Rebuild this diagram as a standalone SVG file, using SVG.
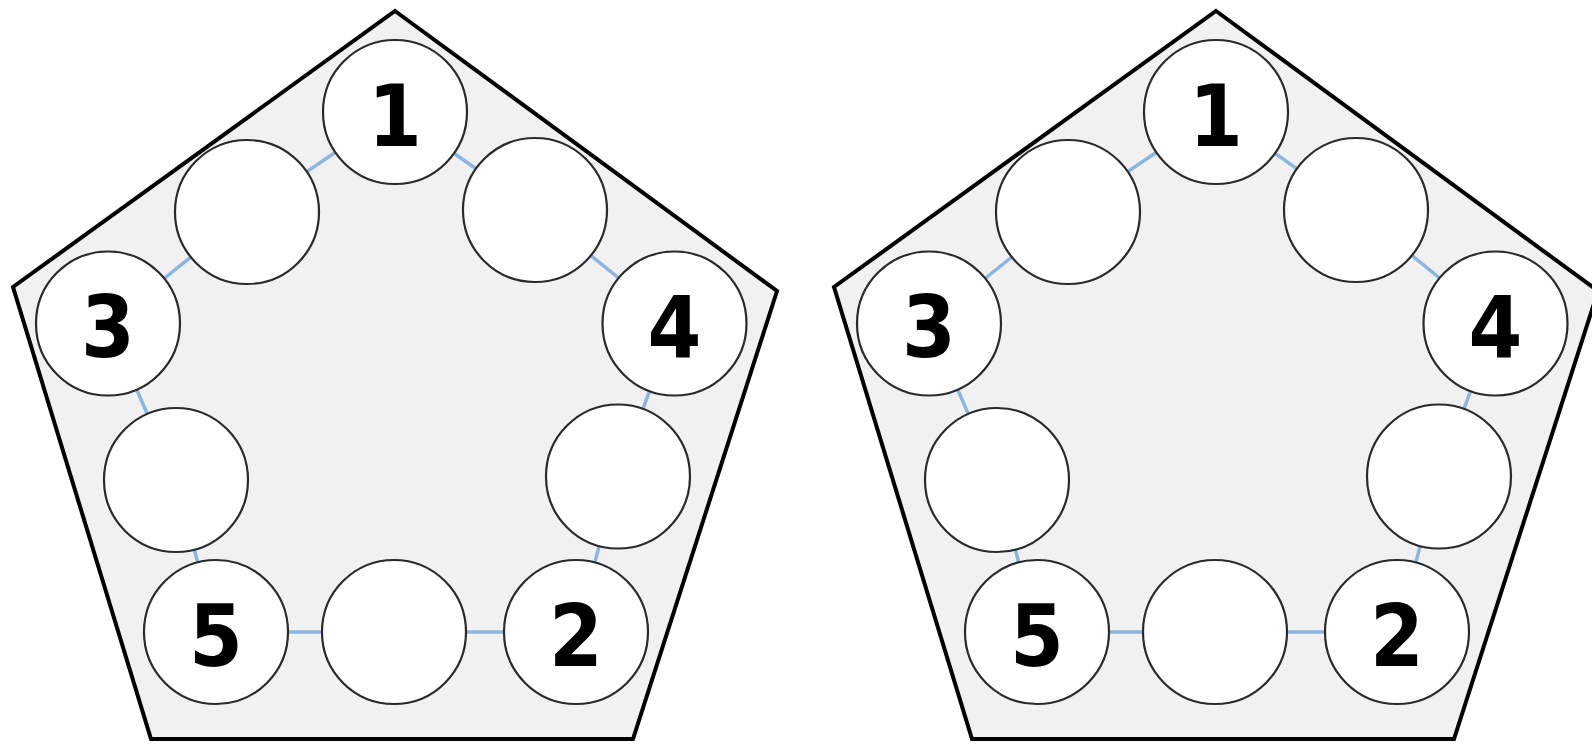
<svg xmlns="http://www.w3.org/2000/svg" width="1592" height="745" viewBox="0 0 1592 745">
<style>
.pent{fill:#f1f1f1;stroke:#000;stroke-width:4;stroke-linejoin:miter}
.node circle{fill:#fff;stroke:#2a2a2a;stroke-width:2.2}
.node text{font-family:"DejaVu Sans Condensed","DejaVu Sans",sans-serif;font-weight:bold;font-size:86px;fill:#000;text-anchor:middle}
.conn line{stroke:#8db6df;stroke-width:3.5}
</style>
<rect width="1592" height="745" fill="#fff"/>
<g id="left">
<polygon id="pentagon-left" class="pent" points="395,11 777,291 633,739 151,739 13,287"/>
<g id="connectors-left" class="conn">
<line x1="395" y1="112" x2="247" y2="212"/>
<line x1="247" y1="212" x2="108" y2="323.5"/>
<line x1="108" y1="323.5" x2="176" y2="480"/>
<line x1="176" y1="480" x2="216" y2="632"/>
<line x1="216" y1="632" x2="394" y2="632"/>
<line x1="394" y1="632" x2="576" y2="632"/>
<line x1="576" y1="632" x2="618" y2="476.5"/>
<line x1="618" y1="476.5" x2="674.5" y2="323.5"/>
<line x1="674.5" y1="323.5" x2="535" y2="210"/>
<line x1="535" y1="210" x2="395" y2="112"/>
</g>
<g id="L-n1" class="node"><circle cx="395" cy="112" r="72"/><text x="395" y="146">1</text></g>
<g id="L-tl" class="node"><circle cx="247" cy="212" r="72"/></g>
<g id="L-tr" class="node"><circle cx="535" cy="210" r="72"/></g>
<g id="L-n3" class="node"><circle cx="108" cy="323.5" r="72"/><text x="108" y="357">3</text></g>
<g id="L-n4" class="node"><circle cx="674.5" cy="323.5" r="72"/><text x="674.5" y="357">4</text></g>
<g id="L-l" class="node"><circle cx="176" cy="480" r="72"/></g>
<g id="L-r" class="node"><circle cx="618" cy="476.5" r="72"/></g>
<g id="L-n5" class="node"><circle cx="216" cy="632" r="72"/><text x="216" y="666">5</text></g>
<g id="L-b" class="node"><circle cx="394" cy="632" r="72"/></g>
<g id="L-n2" class="node"><circle cx="576" cy="632" r="72"/><text x="576" y="666">2</text></g>
</g>
<g id="right" transform="translate(821,0)">
<polygon id="pentagon-right" class="pent" points="395,11 777,291 633,739 151,739 13,287"/>
<g id="connectors-right" class="conn">
<line x1="395" y1="112" x2="247" y2="212"/>
<line x1="247" y1="212" x2="108" y2="323.5"/>
<line x1="108" y1="323.5" x2="176" y2="480"/>
<line x1="176" y1="480" x2="216" y2="632"/>
<line x1="216" y1="632" x2="394" y2="632"/>
<line x1="394" y1="632" x2="576" y2="632"/>
<line x1="576" y1="632" x2="618" y2="476.5"/>
<line x1="618" y1="476.5" x2="674.5" y2="323.5"/>
<line x1="674.5" y1="323.5" x2="535" y2="210"/>
<line x1="535" y1="210" x2="395" y2="112"/>
</g>
<g id="R-n1" class="node"><circle cx="395" cy="112" r="72"/><text x="395" y="146">1</text></g>
<g id="R-tl" class="node"><circle cx="247" cy="212" r="72"/></g>
<g id="R-tr" class="node"><circle cx="535" cy="210" r="72"/></g>
<g id="R-n3" class="node"><circle cx="108" cy="323.5" r="72"/><text x="108" y="357">3</text></g>
<g id="R-n4" class="node"><circle cx="674.5" cy="323.5" r="72"/><text x="674.5" y="357">4</text></g>
<g id="R-l" class="node"><circle cx="176" cy="480" r="72"/></g>
<g id="R-r" class="node"><circle cx="618" cy="476.5" r="72"/></g>
<g id="R-n5" class="node"><circle cx="216" cy="632" r="72"/><text x="216" y="666">5</text></g>
<g id="R-b" class="node"><circle cx="394" cy="632" r="72"/></g>
<g id="R-n2" class="node"><circle cx="576" cy="632" r="72"/><text x="576" y="666">2</text></g>
</g>
</svg>
